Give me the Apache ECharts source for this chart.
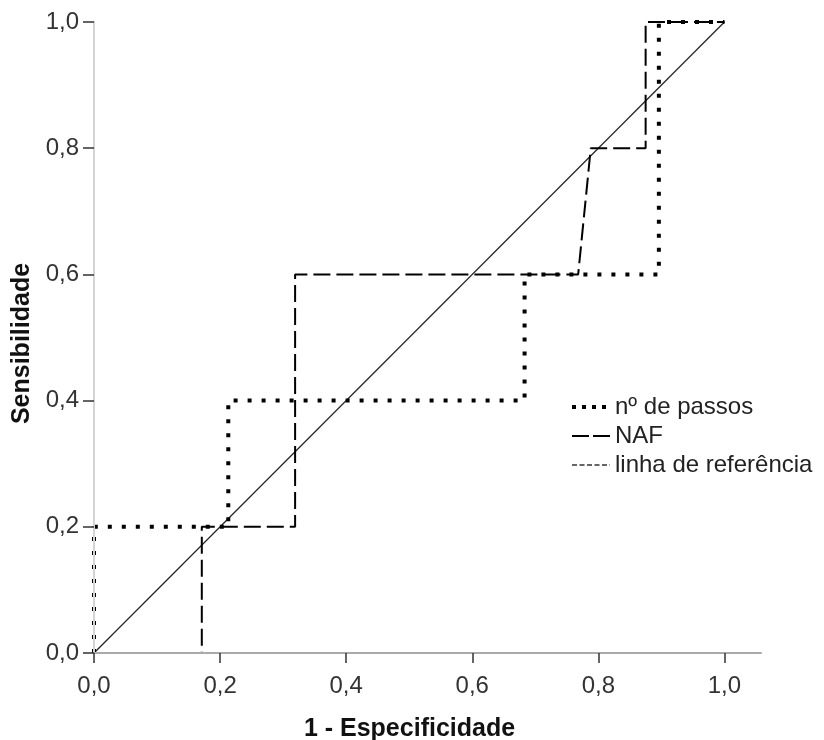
<!DOCTYPE html>
<html>
<head>
<meta charset="utf-8">
<script src="https://cdn.jsdelivr.net/npm/echarts@6/dist/echarts.min.js"></script>
<style>
html,body{margin:0;padding:0;background:#fff;}
#chart{width:824px;height:740px;}
</style>
</head>
<body>
<div id="chart"></div>
<script>
// Data (ROC curves)
var seriesNames = ['nº de passos', 'NAF', 'linha de referência'];
var passosFPR = [0, 0, 0.213, 0.213, 0.683, 0.683, 0.896, 0.896, 1.0];
var passosTPR = [0, 0.2, 0.2, 0.4, 0.4, 0.6, 0.6, 1.0, 1.0];
var nafFPR = [0, 0.171, 0.171, 0.319, 0.319, 0.768, 0.788, 0.875, 0.875, 1.0];
var nafTPR = [0, 0, 0.2, 0.2, 0.6, 0.6, 0.8, 0.8, 1.0, 1.0];
var refFPR = [0, 1.0];
var refTPR = [0, 1.0];
var tickValues = [0, 0.2, 0.4, 0.6, 0.8, 1.0];
var xAxisName = '1 - Especificidade';
var yAxisName = 'Sensibilidade';

function pairs(xs, ys) {
  return xs.map(function (x, i) { return [x, ys[i]]; });
}
function fmt(v) { return v.toFixed(1).replace('.', ','); }

var FONT = '"Liberation Sans", Arial, sans-serif';
var chart = echarts.init(document.getElementById('chart'), null, {renderer: 'canvas'});

chart.setOption({
  animation: false,
  backgroundColor: '#ffffff',
  textStyle: {fontFamily: FONT},
  grid: {left: 94, top: 22, width: 667, height: 631, containLabel: false, outerBoundsMode: 'none'},
  legend: {
    orient: 'vertical',
    left: 565,
    top: 390,
    itemWidth: 38,
    itemHeight: 14,
    itemGap: 5,
    selectedMode: false,
    textStyle: {fontSize: 24, color: '#222', fontFamily: FONT},
    data: [
      {name: seriesNames[0], itemStyle: {opacity: 0}, lineStyle: {type: [4, 6], width: 4, color: '#000'}},
      {name: seriesNames[1], itemStyle: {opacity: 0}, lineStyle: {type: [17, 4], width: 2, color: '#000'}},
      {name: seriesNames[2], itemStyle: {opacity: 0}, lineStyle: {type: [5, 2.5], width: 1.3, color: '#333'}}
    ]
  },
  xAxis: {
    type: 'value',
    min: 0,
    max: 1.058,
    z: 6,
    name: xAxisName,
    nameLocation: 'middle',
    nameGap: 64,
    nameTextStyle: {fontSize: 25, fontWeight: 'bold', color: '#111', fontFamily: FONT, padding: [0, 36, 0, 0]},
    splitLine: {show: false},
    axisLine: {show: true, onZero: false, lineStyle: {color: '#aaaaaa', width: 2}},
    axisTick: {show: true, inside: false, length: 10, customValues: tickValues, lineStyle: {color: '#333', width: 1.5}},
    axisLabel: {show: true, margin: 21, fontSize: 24, color: '#333', fontFamily: FONT, customValues: tickValues, formatter: fmt}
  },
  yAxis: {
    type: 'value',
    min: 0,
    max: 1.0,
    interval: 0.2,
    z: 6,
    name: yAxisName,
    nameLocation: 'middle',
    nameGap: 52,
    nameRotate: 90,
    nameTextStyle: {fontSize: 25, fontWeight: 'bold', color: '#111', fontFamily: FONT, padding: [0, 12, 0, 0]},
    splitLine: {show: false},
    axisLine: {show: true, onZero: false, lineStyle: {color: '#d4d4d4', width: 2}},
    axisTick: {show: true, inside: false, length: 11, lineStyle: {color: '#333', width: 1.5}},
    axisLabel: {show: true, margin: 15, fontSize: 24, color: '#333', fontFamily: FONT, formatter: fmt}
  },
  series: [
    {
      name: seriesNames[2],
      type: 'line',
      data: pairs(refFPR, refTPR),
      showSymbol: false,
      symbol: 'none',
      lineStyle: {color: '#222', width: 1.2, type: 'solid'},
      itemStyle: {color: '#222'},
      z: 2
    },
    {
      name: seriesNames[1],
      type: 'line',
      data: pairs(nafFPR, nafTPR),
      showSymbol: false,
      symbol: 'none',
      lineStyle: {color: '#000', width: 2, type: [17, 6], cap: 'butt'},
      itemStyle: {color: '#000'},
      z: 3
    },
    {
      name: seriesNames[0],
      type: 'line',
      data: pairs(passosFPR, passosTPR),
      showSymbol: false,
      symbol: 'none',
      lineStyle: {color: '#000', width: 4, type: [4, 10], cap: 'butt'},
      itemStyle: {color: '#000'},
      z: 4
    }
  ]
});
</script>
</body>
</html>
